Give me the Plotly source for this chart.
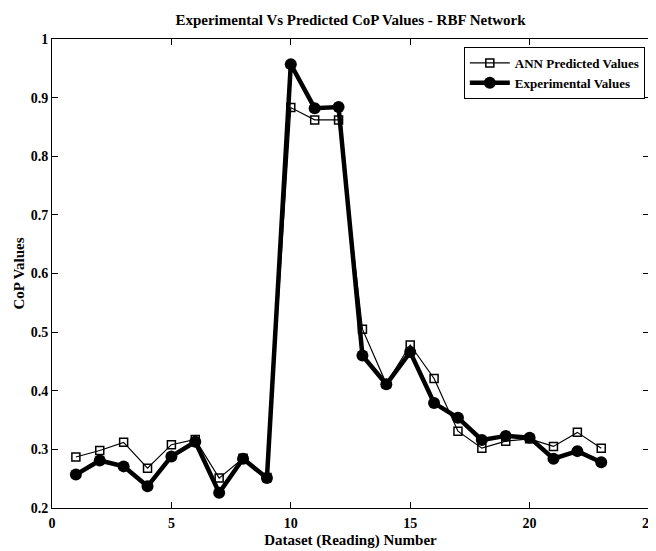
import plotly.graph_objects as go

readings = list(range(1, 24))
ann_predicted = [0.287, 0.298, 0.312, 0.268, 0.308, 0.317, 0.251, 0.285, 0.252,
                 0.883, 0.862, 0.862, 0.505, 0.412, 0.478, 0.421, 0.331, 0.302,
                 0.314, 0.318, 0.305, 0.329, 0.302]
experimental = [0.257, 0.281, 0.271, 0.237, 0.288, 0.313, 0.226, 0.284, 0.251,
                0.957, 0.882, 0.884, 0.460, 0.411, 0.466, 0.379, 0.354, 0.316,
                0.323, 0.320, 0.284, 0.297, 0.278]
x_ticks = [0, 5, 10, 15, 20, 25]
y_ticks = [0.2, 0.3, 0.4, 0.5, 0.6, 0.7, 0.8, 0.9, 1.0]
y_tick_labels = ["0.2", "0.3", "0.4", "0.5", "0.6", "0.7", "0.8", "0.9", "1"]

font_family = "Liberation Serif, Times New Roman, serif"

fig = go.Figure()
fig.add_trace(go.Scatter(
    x=readings, y=ann_predicted, mode="lines+markers", name="ANN Predicted Values",
    line=dict(color="black", width=1.2),
    marker=dict(symbol="square-open", size=8, color="black", line=dict(width=1.5)),
))
fig.add_trace(go.Scatter(
    x=readings, y=experimental, mode="lines+markers", name="Experimental Values",
    line=dict(color="black", width=4.5),
    marker=dict(symbol="circle", size=12, color="black"),
))

axis_common = dict(
    showgrid=False, zeroline=False, showline=True, linecolor="black", linewidth=1,
    mirror="ticks", ticks="inside", ticklen=6, tickcolor="black", automargin=False,
    ticklabeloverflow="allow",
    tickfont=dict(family=font_family, size=14, color="black", weight="bold"),
)

fig.update_layout(
    width=648, height=543,
    margin=dict(l=44, r=7, t=31, b=43),
    paper_bgcolor="white", plot_bgcolor="white",
    font=dict(family=font_family, color="black"),
    title=dict(text="<b>Experimental Vs Predicted CoP Values - RBF Network</b>",
               x=0.5, xref="paper", y=0.978, yanchor="middle",
               font=dict(family=font_family, size=15, color="black")),
    xaxis=dict(range=[0, 25], tickvals=x_ticks, ticklabelstandoff=2,
               title=dict(text="<b>Dataset (Reading) Number</b>", standoff=4,
                          font=dict(family=font_family, size=15, color="black")),
               **axis_common),
    yaxis=dict(range=[0.2, 1.0], tickvals=y_ticks, ticktext=y_tick_labels,
               ticklabelstandoff=0,
               title=dict(text="<b>CoP Values</b>", standoff=2,
                          font=dict(family=font_family, size=15, color="black")),
               **axis_common),
    legend=dict(x=0.993, y=0.983, xanchor="right", yanchor="top",
                bgcolor="white", bordercolor="black", borderwidth=1,
                font=dict(family=font_family, size=13, color="black", weight="bold"),
                tracegroupgap=0, itemwidth=40),
    showlegend=True,
)

fig.write_html("out.html")
